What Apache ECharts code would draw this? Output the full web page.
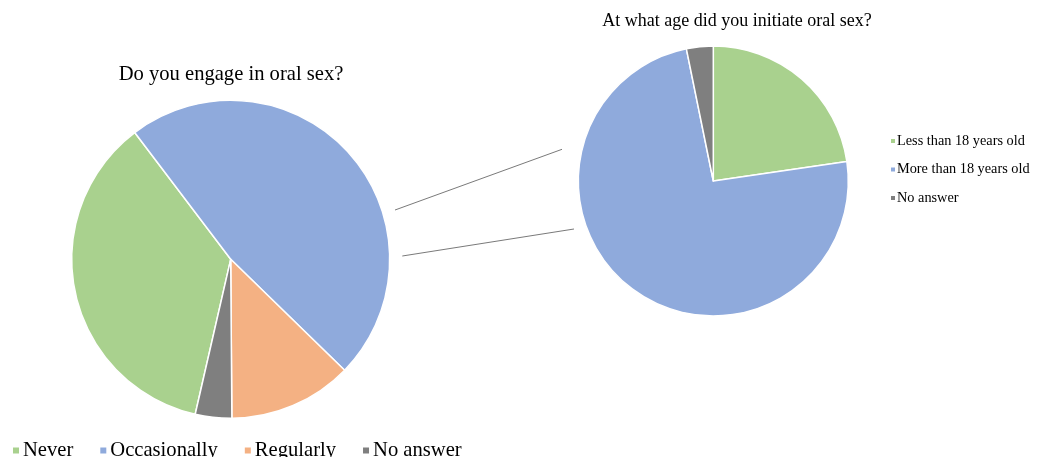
<!DOCTYPE html>
<html><head><meta charset="utf-8">
<script src="https://cdn.jsdelivr.net/npm/echarts@6/dist/echarts.min.js"></script>
<style>html,body{margin:0;padding:0;background:#fff}#c{width:1037px;height:457px}</style>
</head><body><div id="c"></div>
<script>
const leftTitle = 'Do you engage in oral sex?';
const leftCategories = ['Never', 'Occasionally', 'Regularly', 'No answer'];
const leftValues = [36.1, 47.6, 12.6, 3.7];
const leftColors = ['#A9D18E', '#8FAADC', '#F4B183', '#7F7F7F'];

const rightTitle = 'At what age did you initiate oral sex?';
const rightCategories = ['Less than 18 years old', 'More than 18 years old', 'No answer'];
const rightValues = [22.7, 74.1, 3.2];
const rightColors = ['#A9D18E', '#8FAADC', '#7F7F7F'];

const font = '"Liberation Serif", "Times New Roman", serif';
const chart = echarts.init(document.getElementById('c'));

function toData(cats, vals, cols) {
  return cats.map((n, i) => ({ name: n, value: vals[i], itemStyle: { color: cols[i] } }));
}

chart.setOption({
  animation: false,
  backgroundColor: '#fff',
  title: [
    { text: leftTitle, left: 226, top: 59, textAlign: 'center',
      textStyle: { fontFamily: font, fontSize: 20.6, fontWeight: 'normal', color: '#000' } },
    { text: rightTitle, left: 732, top: 7, textAlign: 'center',
      textStyle: { fontFamily: font, fontSize: 18, fontWeight: 'normal', color: '#000' } }
  ],
  legend: [
    { data: leftCategories, orient: 'horizontal', left: 6, top: 435, icon: 'rect',
      itemWidth: 8, itemHeight: 8, itemGap: 25,
      textStyle: { fontFamily: font, fontSize: 20.6, color: '#000', padding: [0, 0, 0, -2] } },
    { data: rightCategories, orient: 'vertical', left: 884, top: 129, icon: 'rect',
      itemWidth: 6, itemHeight: 6, itemGap: 14.5,
      textStyle: { fontFamily: font, fontSize: 14.3, color: '#000', padding: [0, 0, 0, -4] } }
  ],
  series: [
    { type: 'pie', center: [230.7, 259.3], radius: 159, startAngle: 257.1, clockwise: true,
      label: { show: false }, labelLine: { show: false }, silent: true,
      itemStyle: { borderColor: '#fff', borderWidth: 1.5 },
      data: toData(leftCategories, leftValues, leftColors) },
    { type: 'pie', center: [713.3, 181], radius: 135, startAngle: 90, clockwise: true,
      label: { show: false }, labelLine: { show: false }, silent: true,
      itemStyle: { borderColor: '#fff', borderWidth: 1.5 },
      data: toData(rightCategories, rightValues, rightColors) }
  ],
  graphic: [
    { type: 'line', shape: { x1: 395, y1: 210, x2: 562, y2: 149.3 }, style: { stroke: '#7a7a7a', lineWidth: 1 } },
    { type: 'line', shape: { x1: 402.3, y1: 256, x2: 574, y2: 229 }, style: { stroke: '#7a7a7a', lineWidth: 1 } }
  ]
});
</script></body></html>
